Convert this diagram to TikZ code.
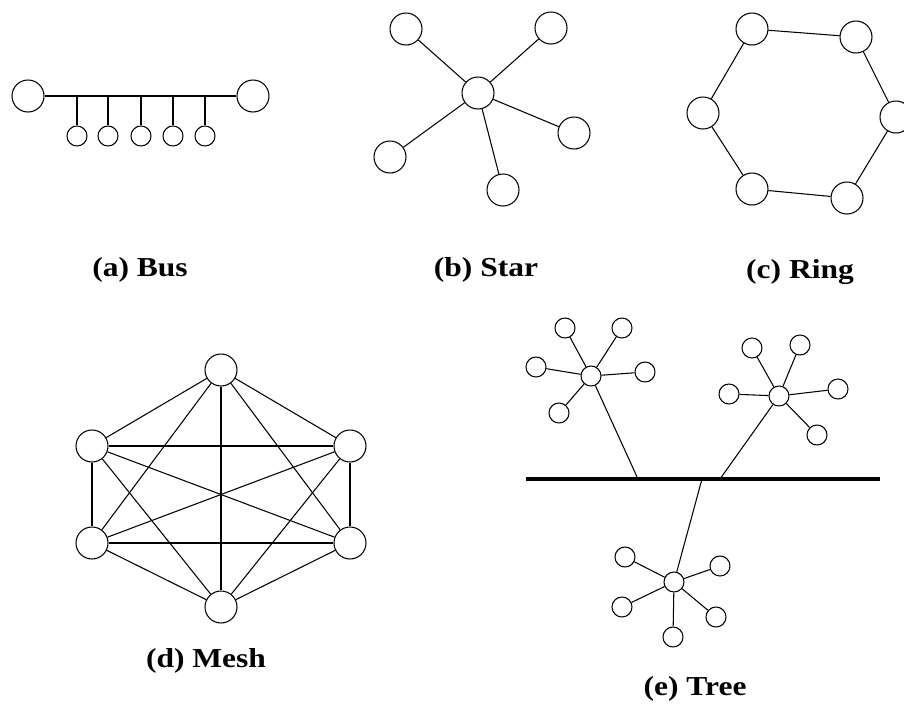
\documentclass[tikz,border=0pt]{standalone}
\usepackage{fontspec}
\setmainfont{Liberation Serif}

\begin{document}
\begin{tikzpicture}[x=0.02cm, y=-0.02cm, line join=round,
    host/.style={draw, circle, line width=0.6pt, minimum size=0.64cm, inner sep=0pt},
    leaf/.style={host, minimum size=0.4cm},
    link/.style={line width=0.6pt},
    trunk/.style={line width=2.6pt},
    caption/.style={font=\fontsize{15.6}{19}\selectfont\bfseries, xscale=1.15}]

    \useasboundingbox (0,0) rectangle (904,707);

    % --- (a) Bus: two end hosts on one cable, five taps below ---
    \node[host] (busL) at (28,96) {};
    \node[host] (busR) at (253,96) {};
    \draw[link] (busL) -- (busR);
    \foreach \i/\x in {1/77, 2/108, 3/141, 4/173, 5/205} {
        \node[leaf] (bus\i) at (\x,136) {};
        \draw[link] (bus\i) -- (bus\i |- busL);
    }

    % --- (b) Star ---
    \node[host] (hub) at (478,93) {};
    \foreach \n/\x/\y in {s1/406/29, s2/551/28, s3/574/133, s4/503/190, s5/390/157} {
        \node[host] (\n) at (\x,\y) {};
        \draw[link] (hub) -- (\n);
    }

    % --- (c) Ring ---
    \foreach \i/\x/\y in {1/752/29, 2/856/37, 3/896/117, 4/847/198, 5/752/189, 6/703/113} {
        \node[host] (r\i) at (\x,\y) {};
    }
    \foreach \i/\j in {1/2, 2/3, 3/4, 4/5, 5/6, 6/1} {
        \draw[link] (r\i) -- (r\j);
    }

    % --- (d) Mesh: every pair joined ---
    \foreach \i/\x/\y in {1/221/370, 2/350/446, 3/350/543, 4/221/607, 5/92/543, 6/92/446} {
        \node[host] (m\i) at (\x,\y) {};
    }
    \foreach \i in {1,...,5} {
        \pgfmathtruncatemacro\k{\i+1}
        \foreach \j in {\k,...,6} {
            \draw[link] (m\i) -- (m\j);
        }
    }

    % --- (e) Tree: three small stars hanging off a backbone ---
    \coordinate (backL) at (526,479);
    \coordinate (backR) at (880,479);
    \coordinate (tap1) at (638,479);
    \coordinate (tap2) at (720,479);
    \coordinate (tap3) at (702,479);

    \node[leaf] (t1) at (591,376) {};
    \node[leaf] (t2) at (779,396) {};
    \node[leaf] (t3) at (674,582) {};

    \foreach \n/\x/\y in {565/328, 622/328, 536/367, 645/372, 559/413} {
        \node[leaf] (t1l\x) at (\n,\y) {};
        \draw[link] (t1) -- (t1l\x);
    }
    \foreach \n/\x/\y in {752/348, 800/345, 729/394, 838/389, 817/435} {
        \node[leaf] (t2l\x) at (\n,\y) {};
        \draw[link] (t2) -- (t2l\x);
    }
    \foreach \n/\x/\y in {625/557, 720/566, 622/607, 716/617, 673/637} {
        \node[leaf] (t3l\x) at (\n,\y) {};
        \draw[link] (t3) -- (t3l\x);
    }

    \draw[link] (t1) -- (tap1);
    \draw[link] (t2) -- (tap2);
    \draw[link] (t3) -- (tap3);
    \draw[trunk] (backL) -- (backR);

    % --- Captions ---
    \node[caption] (capA) at (140,270) {(a) Bus};
    \node[caption] (capB) at (486,270) {(b) Star};
    \node[caption] (capC) at (800,272) {(c) Ring};
    \node[caption] (capD) at (206,661) {(d) Mesh};
    \node[caption] (capE) at (695,689) {(e) Tree};

\end{tikzpicture}
\end{document}
